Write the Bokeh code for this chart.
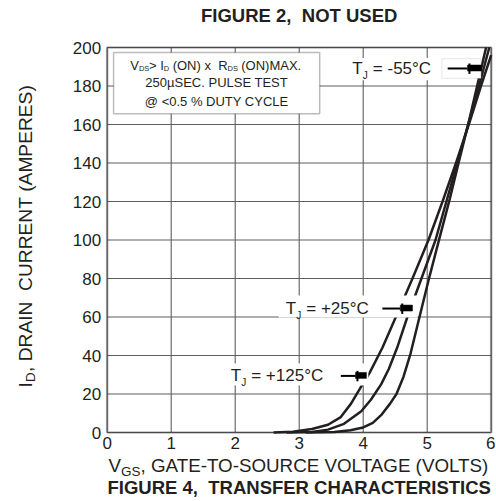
import math
from bokeh.plotting import figure
from bokeh.models import Range1d, Label, BoxAnnotation, FixedTicker
from bokeh.embed import file_html
from bokeh.resources import INLINE

# ---- data ----
vgs_125 = [2.6, 2.9, 3.2, 3.45, 3.65, 3.81, 3.97, 4.1, 4.3, 4.51, 4.77, 5.02, 5.24, 5.45, 5.65, 5.84, 6.0]
id_125 = [0, 0.4, 1.8, 4, 8, 15, 24, 31, 44, 60, 80, 100, 120, 140, 160, 180, 196]

vgs_25 = [2.8, 3.2, 3.45, 3.7, 3.97, 4.12, 4.28, 4.4, 4.53, 4.69, 4.91, 5.13, 5.30, 5.47, 5.64, 5.81, 5.97]
id_25 = [0, 0.3, 1.5, 4.5, 11, 17, 25, 33, 44, 60, 80, 100, 120, 140, 160, 180, 200]

vgs_m55 = [3.1, 3.55, 3.8, 4.0, 4.15, 4.28, 4.42, 4.52, 4.63, 4.74, 4.85, 5.02, 5.20, 5.35, 5.49, 5.64, 5.78, 5.92]
id_m55 = [0, 0.3, 1.2, 2.6, 5, 9, 15, 20, 29, 41, 56, 79, 102, 121, 140, 160, 180, 200]

x_ticks = [0, 1, 2, 3, 4, 5, 6]
y_ticks = [0, 20, 40, 60, 80, 100, 120, 140, 160, 180, 200]

# temperature label anchors (V, A) and arrows (line start, block start, block end)
temp_labels = ["-55", "+25", "+125"]
lab_x = [3.83, 2.79, 1.93]
lab_y = [189.1, 64.4, 29.4]
arr_x0 = [5.32, 4.30, 3.65]
arr_xb = [5.63, 4.58, 3.88]
arr_x1 = [5.85, 4.77, 4.05]

INK = "#231f20"
FONT = "Liberation Sans"
NB = "\u00a0"

W, H = 495, 500
PX_V, PX_A = 64.0, 1.925          # pixel scale of the chart area
LEFT, TOP, BOTTOM = 106.7, 47.0, 432.0

p = figure(width=W, height=H,
           x_range=Range1d(-LEFT / PX_V, (W - LEFT) / PX_V),
           y_range=Range1d(-(H - BOTTOM) / PX_A, 200 + TOP / PX_A),
           output_backend="svg", toolbar_location=None, title_location=None,
           min_border=0, min_border_left=0, min_border_right=0,
           min_border_top=0, min_border_bottom=0)
p.background_fill_color = "white"
p.border_fill_color = "white"
p.outline_line_color = None
p.xgrid.visible = False
p.ygrid.visible = False

for ax in (p.xaxis, p.yaxis):
    ax.fixed_location = 0
    ax.axis_line_color = None
    ax.major_tick_line_color = None
    ax.minor_tick_line_color = None
    ax.major_tick_out = 0
    ax.major_tick_in = 0
    ax.major_label_text_font = FONT
    ax.major_label_text_font_size = "17px"
    ax.major_label_text_color = INK
p.xaxis.ticker = FixedTicker(ticks=x_ticks)
p.yaxis.ticker = FixedTicker(ticks=y_ticks)
p.xaxis.major_label_standoff = 4
p.yaxis.major_label_standoff = 6

# grid lines of the chart area
p.segment(x0=x_ticks, y0=[y_ticks[0]] * len(x_ticks), x1=x_ticks, y1=[y_ticks[-1]] * len(x_ticks),
          line_color="#5e5e5e", line_width=1.1)
p.segment(x0=[x_ticks[0]] * len(y_ticks), y0=y_ticks, x1=[x_ticks[-1]] * len(y_ticks), y1=y_ticks,
          line_color="#5e5e5e", line_width=1.1)

for xs, ys in ((vgs_125, id_125), (vgs_25, id_25), (vgs_m55, id_m55)):
    p.line(xs, ys, line_color=INK, line_width=2.5, line_join="round")

# white backgrounds behind the temperature labels
for l, r, b, t in ((3.77, 5.23, 183.0, 194.5), (2.68, 4.85, 59.7, 71.2), (1.80, 4.08, 24.4, 35.8)):
    p.add_layout(BoxAnnotation(left=l, right=r, bottom=b, top=t, fill_color="white",
                               fill_alpha=1.0, line_alpha=0))
p.add_layout(BoxAnnotation(left=5.23, right=5.84, bottom=184.0, top=194.2, fill_color="white",
                           fill_alpha=1.0, line_color="#b0b0b0", line_width=1))

# conditions box
p.add_layout(BoxAnnotation(left=0.1, right=3.32, bottom=165.6, top=197.4, fill_color="white",
                           fill_alpha=1.0, line_color=INK, line_width=1.5))

# chart frame
p.add_layout(BoxAnnotation(left=x_ticks[0], right=x_ticks[-1], bottom=y_ticks[0], top=y_ticks[-1],
                           fill_alpha=0, line_color=INK, line_width=2.6))


def lab(x, y, text, size, xo=0, yo=0, bold=False, align="left", angle=0.0):
    p.add_layout(Label(x=x, y=y, text=text, x_offset=xo, y_offset=yo, angle=angle,
                       text_font=FONT, text_font_size=f"{size}px", text_color=INK,
                       text_font_style="bold" if bold else "normal",
                       text_align=align, text_baseline="middle"))


# condition text
r1x, r1y = 0.36, 190.6
parts = [("V", 0, 0, 13), ("DS", 8.7, -3, 7.5), ("> I", 18.7, 0, 13), ("D", 33.6, -3, 7.5),
         ("(ON) x", 42.4, 0, 13), ("R", 88.0, 0, 13), ("DS", 97.3, -3, 7.5), ("(ON)MAX.", 111.0, 0, 13)]
for t, xo, yo, s in parts:
    lab(r1x, r1y, t, s, xo, yo)
lab(1.71, 182.0, "250µSEC. PULSE TEST", 13, align="center")
lab(1.71, 172.0, "@ <0.5 % DUTY CYCLE", 13, align="center")

# temperature labels
for name, x, y in zip(temp_labels, lab_x, lab_y):
    lab(x, y, "T", 17)
    lab(x, y, "J", 10, 10.5, -7)
    lab(x, y, f"= {name}°C", 17, 20.5, 0)

# arrows
for x0, xb, x1, y in zip(arr_x0, arr_xb, arr_x1, lab_y):
    r = p.segment(x0=[x0], y0=[y], x1=[xb], y1=[y], line_color="black", line_width=2)
    r.level = "overlay"
    r = p.quad(left=[xb], right=[x1], bottom=[y - 1.3], top=[y + 1.8], fill_color="black",
               line_color="black", line_width=0.5)
    r.level = "overlay"
    r = p.segment(x0=[xb + 0.03], y0=[y - 2.8], x1=[xb + 0.03], y1=[y + 2.6],
                  line_color="black", line_width=2)
    r.level = "overlay"

# titles and axis labels
lab(3.0, 216.6, f"FIGURE 2,{NB}{NB}NOT USED", 18.5, bold=True, align="center")
lab(3.0, -28.6, f"FIGURE 4,{NB}{NB}TRANSFER CHARACTERISTICS", 18.5, bold=True, align="center")

lab(0.02, -17.1, "V", 18.8)
lab(0.02, -17.1, "GS", 13.5, 12.5, -6)
lab(0.02, -17.1, ", GATE-TO-SOURCE VOLTAGE (VOLTS)", 18.8, 32.0, 0)

ya = math.pi / 2
lab(-1.277, 23.4, "I", 19.2, angle=ya)
lab(-1.277, 23.4, "D", 13.5, 5, 5.5, angle=ya)
lab(-1.277, 23.4, f",{NB}DRAIN{NB}{NB}CURRENT{NB}(AMPERES)", 19.2, 0, 15.5, angle=ya)

open("out.html", "w").write(file_html(p, INLINE))
